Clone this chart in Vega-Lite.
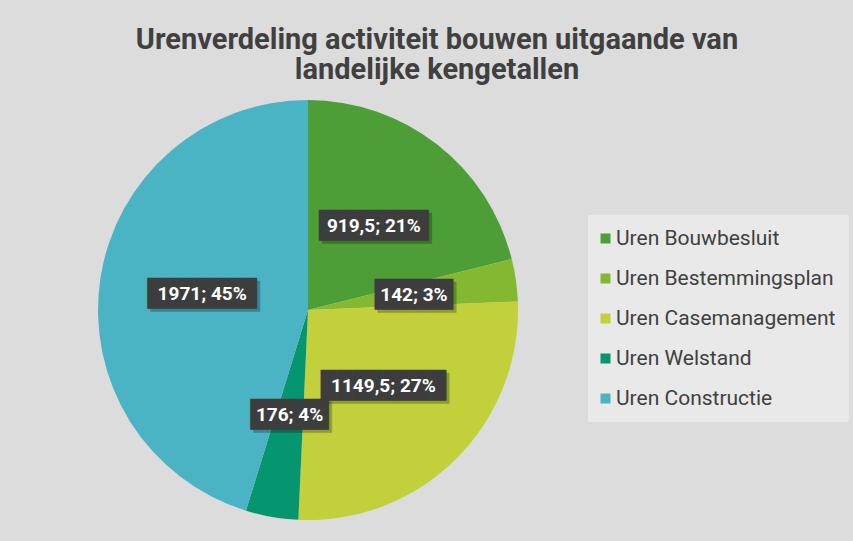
{
  "$schema": "https://vega.github.io/schema/vega-lite/v6.json",
  "autosize": {"type": "none"},
  "width": 420,
  "height": 420,
  "padding": {"left": 98, "top": 100, "right": 335, "bottom": 21},
  "background": "#dcdcdc",
  "title": {
    "text": ["Urenverdeling activiteit bouwen uitgaande van", "landelijke kengetallen"],
    "font": "Roboto",
    "fontWeight": "bold",
    "fontSize": 29,
    "lineHeight": 30,
    "color": "#404040",
    "anchor": "middle",
    "frame": "group",
    "dx": 129,
    "offset": 15
  },
  "data": {
    "values": [
      {"i": 1, "cat": "Uren Bouwbesluit", "uren": 919.5, "label": "919,5; 21%"},
      {"i": 2, "cat": "Uren Bestemmingsplan", "uren": 142, "label": "142; 3%"},
      {"i": 3, "cat": "Uren Casemanagement", "uren": 1149.5, "label": "1149,5; 27%"},
      {"i": 4, "cat": "Uren Welstand", "uren": 176, "label": "176; 4%"},
      {"i": 5, "cat": "Uren Constructie", "uren": 1971, "label": "1971; 45%"}
    ]
  },
  "transform": [
    {"calculate": "pad('', ceil(length(datum.label) * 0.68), '█')", "as": "box"}
  ],
  "encoding": {
    "theta": {"field": "uren", "type": "quantitative", "stack": true},
    "order": {"field": "i", "type": "ordinal"}
  },
  "layer": [
    {
      "mark": {"type": "arc", "stroke": null},
      "encoding": {
        "color": {
          "field": "cat",
          "type": "nominal",
          "scale": {
            "domain": ["Uren Bouwbesluit", "Uren Bestemmingsplan", "Uren Casemanagement", "Uren Welstand", "Uren Constructie"],
            "range": ["#4e9e37", "#83b830", "#c2d03b", "#05956f", "#4ab4c4"]
          },
          "legend": {
            "orient": "none",
            "legendX": 490,
            "legendY": 115,
            "title": null,
            "labelFont": "Roboto",
            "labelFontSize": 21,
            "labelColor": "#404040",
            "labelLimit": 400,
            "labelOffset": 0,
            "symbolOffset": -6,
            "symbolType": "square",
            "symbolSize": 100,
            "symbolStrokeWidth": 0,
            "rowPadding": 18,
            "padding": 13,
            "fillColor": "#e9e9e9"
          }
        }
      }
    },
    {
      "mark": {"type": "text", "radius": 107, "font": "DejaVu Sans Mono", "fontSize": 26, "color": "#000000", "opacity": 0.25, "dx": 3, "dy": 3},
      "encoding": {"text": {"field": "box"}}
    },
    {
      "mark": {"type": "text", "radius": 107, "font": "DejaVu Sans Mono", "fontSize": 26, "color": "#3d3d3d"},
      "encoding": {"text": {"field": "box"}}
    },
    {
      "mark": {"type": "text", "radius": 107, "font": "Roboto", "fontWeight": "bold", "fontSize": 19, "color": "#ffffff"},
      "encoding": {"text": {"field": "label"}}
    }
  ]
}
